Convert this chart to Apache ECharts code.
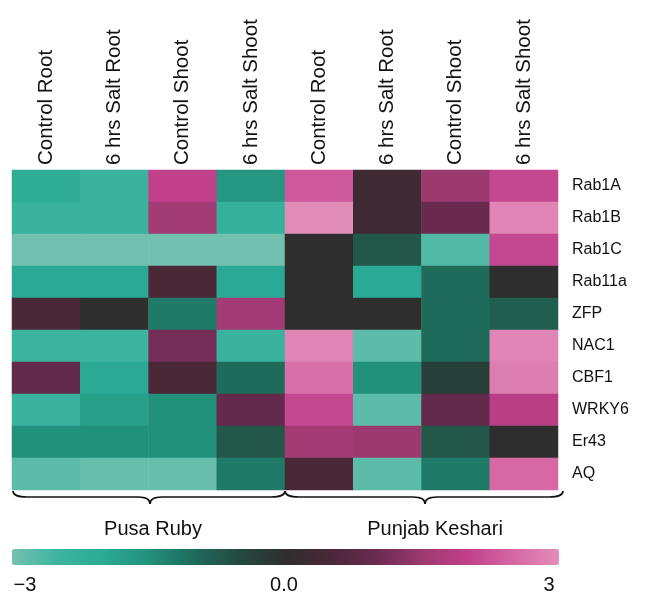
<!DOCTYPE html>
<html><head><meta charset="utf-8">
<script src="https://cdn.jsdelivr.net/npm/echarts@6/dist/echarts.min.js"></script>
<style>html,body{margin:0;padding:0;background:#fff}#c{width:647px;height:595px}</style>
</head><body><div id="c"></div>
<script>
const conditions = ['Control Root','6 hrs Salt Root','Control Shoot','6 hrs Salt Shoot','Control Root','6 hrs Salt Root','Control Shoot','6 hrs Salt Shoot'];
const genes = ['Rab1A','Rab1B','Rab1C','Rab11a','ZFP','NAC1','CBF1','WRKY6','Er43','AQ'];
const groups = ['Pusa Ruby','Punjab Keshari'];
const scaleTicks = ['\u22123','0.0','3'];
// values per gene, one per condition
const Rab1A  = [-2.1,-2.4, 2.0,-1.6, 2.3, 0.3, 1.5, 2.1];
const Rab1B  = [-2.4,-2.4, 1.6,-2.3, 3.0, 0.3, 1.0, 2.9];
const Rab1C  = [-3.0,-3.0,-3.0,-3.0, 0.0,-0.7,-2.7, 2.1];
const Rab11a = [-2.0,-2.0, 0.5,-2.0, 0.0,-2.0,-1.0, 0.0];
const ZFP    = [ 0.5, 0.0,-1.2, 1.6, 0.0, 0.0,-1.0,-0.8];
const NAC1   = [-2.5,-2.5, 1.1,-2.4, 2.9,-2.8,-1.0, 2.9];
const CBF1   = [ 0.9,-2.0, 0.5,-1.0, 2.6,-1.5,-0.3, 2.8];
const WRKY6  = [-2.4,-1.8,-1.5, 0.9, 2.1,-2.8, 0.9, 1.9];
const Er43   = [-1.5,-1.5,-1.5,-0.7, 1.6, 1.5,-0.7, 0.0];
const AQ     = [-2.8,-2.9,-2.9,-1.2, 0.5,-2.8,-1.2, 2.5];
const rows = [Rab1A,Rab1B,Rab1C,Rab11a,ZFP,NAC1,CBF1,WRKY6,Er43,AQ];

const data = [];
rows.forEach((r, yi) => r.forEach((v, xi) => data.push([xi, yi, v])));

const FONT = 'Liberation Sans';
const chart = echarts.init(document.getElementById('c'));
const gridL = 12, gridR = 558, gridT = 170, gridB = 490;
const colW = (gridR - gridL) / conditions.length;
const braceStyle = { fill: null, stroke: '#111', lineWidth: 1.7 };
function brace(x1, x2, xm) {
  const y0 = 491, y1 = 497, y2 = 504;
  const q = (ax, ay, bx, by, cx, cy) => ({ type: 'bezierCurve', shape: { x1: ax, y1: ay, x2: bx, y2: by, cpx1: cx, cpy1: cy }, style: braceStyle });
  const l = (ax, ay, bx, by) => ({ type: 'line', shape: { x1: ax, y1: ay, x2: bx, y2: by }, style: braceStyle });
  return [
    q(x1, y0, x1 + 14, y1, x1, y1),
    l(x1 + 14, y1, xm - 12, y1),
    q(xm - 12, y1, xm, y2, xm, y1),
    q(xm, y2, xm + 12, y1, xm, y1),
    l(xm + 12, y1, x2 - 14, y1),
    q(x2 - 14, y1, x2, y0, x2, y1)
  ];
}
const mid = gridL + colW * 4;
const txt = (x, y, s) => ({ type: 'text', x: x, y: y, style: { text: s, fontSize: 20, fill: '#111', align: 'center', verticalAlign: 'middle', fontFamily: FONT } });
chart.setOption({
  animation: false,
  textStyle: { fontFamily: FONT },
  grid: { left: gridL, right: 647 - gridR, top: gridT, bottom: 595 - gridB },
  xAxis: {
    type: 'category', data: conditions, position: 'top',
    axisLine: { show: false }, axisTick: { show: false }, splitArea: { show: false },
    axisLabel: { rotate: -90, fontSize: 20.5, color: '#111', margin: 5, fontFamily: FONT, interval: 0 }
  },
  yAxis: {
    type: 'category', data: genes, position: 'right', inverse: true,
    axisLine: { show: false }, axisTick: { show: false },
    axisLabel: { fontSize: 16, color: '#111', margin: 14, fontFamily: FONT, interval: 0 }
  },
  visualMap: {
    type: 'continuous', min: -3, max: 3, orient: 'horizontal',
    left: -3, top: 534, itemWidth: 16, itemHeight: 547,
    calculable: false, text: null, showLabel: false, hoverLink: false,
    inRange: { color: ['#72c1af','#3db4a0','#2aaa94','#22917c','#1e6b5a','#244a40','#2e2e2e','#4a2838','#6a2a50','#9c3a70','#c0408a','#d668a4','#e28cb9'] }
  },
  series: [{
    type: 'heatmap', data: data,
    itemStyle: { borderWidth: 0 },
    emphasis: { disabled: true }
  }],
  graphic: [
    ...brace(gridL + 1, mid, 150),
    ...brace(mid, 563, 425),
    txt(153, 529, groups[0]),
    txt(435, 529, groups[1]),
    txt(25, 585, scaleTicks[0]),
    txt(284, 585, scaleTicks[1]),
    txt(549, 585, scaleTicks[2])
  ]
});
</script></body></html>
